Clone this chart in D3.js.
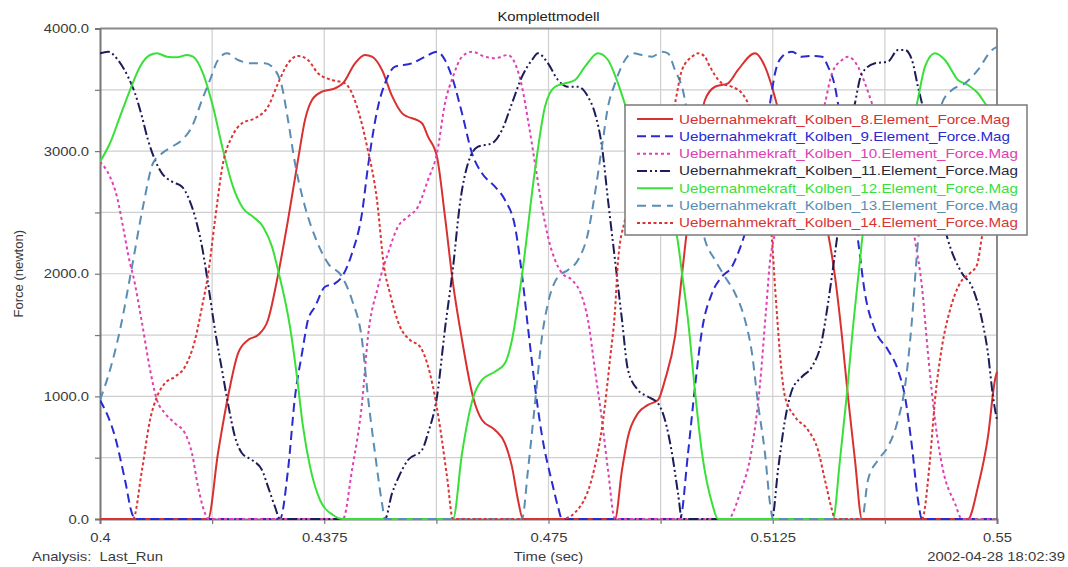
<!DOCTYPE html>
<html>
<head>
<meta charset="utf-8">
<script src="https://cdnjs.cloudflare.com/ajax/libs/d3/7.8.5/d3.min.js"></script>
<style>
  body { margin: 0; background: #fff; }
  text { font-family: "Liberation Sans", Arial, sans-serif; }
</style>
</head>
<body>
<div id="chart"></div>
<script>
// force curves: [time (sec), force (newton)]
const kolben8 = [[0.4,0],[0.41806,0],[0.41973,536],[0.42140,997],[0.42308,1351],[0.42475,1460],[0.42642,1500],[0.42809,1623],[0.42977,1990],[0.43144,2438],[0.43311,2928],[0.43428,3254],[0.43545,3417],[0.43712,3485],[0.43930,3512],[0.44063,3553],[0.44264,3716],[0.44431,3784],[0.44548,3770],[0.44716,3662],[0.44883,3450],[0.45050,3310],[0.45385,3227],[0.45485,3118],[0.45635,2955],[0.45769,2465],[0.45903,1922],[0.46054,1460],[0.46237,997],[0.46388,807],[0.46605,726],[0.46772,617],[0.46889,427],[0.46990,155],[0.47073,0],[0.48612,0],[0.48729,400],[0.48829,671],[0.48996,862],[0.49164,930],[0.49331,970],[0.49448,1134],[0.49615,1487],[0.49732,1990],[0.49833,2438],[0.50117,3417],[0.50284,3525],[0.50501,3553],[0.50669,3662],[0.50953,3798],[0.51120,3689],[0.51237,3525],[0.51321,3376],[0.52174,2330],[0.52291,1976],[0.52408,1487],[0.52508,997],[0.52625,481],[0.52742,0],[0.54515,0],[0.54682,264],[0.54849,671],[0.54966,1134],[0.55,1200]];

const kolben9 = [[0.4,970],[0.40251,671],[0.40418,318],[0.40535,46],[0.40585,0],[0.43010,0],[0.43144,400],[0.43261,997],[0.43378,1351],[0.43478,1623],[0.43595,1731],[0.43762,1894],[0.43930,1922],[0.44047,1976],[0.44214,2167],[0.44381,2493],[0.44481,2873],[0.44649,3362],[0.44766,3553],[0.44933,3689],[0.45217,3716],[0.45435,3770],[0.45635,3811],[0.45769,3743],[0.45903,3580],[0.46054,3308],[0.46221,2982],[0.46388,2819],[0.46605,2710],[0.46772,2601],[0.46940,2384],[0.47057,1990],[0.47157,1560],[0.47274,1080],[0.47391,680],[0.47558,300],[0.47659,100],[0.47726,0],[0.49699,0],[0.49833,536],[0.49950,1079],[0.50067,1540],[0.50234,1841],[0.50401,1976],[0.50568,2058],[0.50669,2167],[0.50786,2330],[0.51204,3390],[0.51288,3635],[0.51405,3770],[0.51572,3811],[0.51739,3770],[0.51906,3776],[0.52073,3770],[0.52174,3689],[0.52291,3525],[0.52341,3390],[0.52675,2275],[0.52792,1841],[0.52960,1541],[0.53177,1378],[0.53344,1215],[0.53461,997],[0.53578,590],[0.53679,155],[0.53745,0],[0.55,0]];

const kolben10 = [[0.4,2914],[0.40167,2791],[0.40284,2628],[0.40385,2384],[0.40502,2085],[0.40552,1990],[0.40702,1600],[0.40836,1220],[0.40953,970],[0.41087,862],[0.41254,780],[0.41421,699],[0.41538,536],[0.41639,264],[0.41756,46],[0.41806,0],[0.44063,0],[0.44214,400],[0.44381,943],[0.44481,1487],[0.44649,1894],[0.44816,2167],[0.44983,2384],[0.45150,2465],[0.45318,2547],[0.45485,2765],[0.45635,2982],[0.45769,3390],[0.45903,3607],[0.46054,3770],[0.46221,3811],[0.46438,3770],[0.46605,3757],[0.46823,3784],[0.46940,3716],[0.47057,3525],[0.47157,3254],[0.47274,2901],[0.47391,2547],[0.47491,2302],[0.47609,2112],[0.47726,2004],[0.47893,1949],[0.48060,1813],[0.48160,1623],[0.48277,1215],[0.48394,807],[0.48495,400],[0.48612,0],[0.50501,0],[0.50702,210],[0.50903,580],[0.51037,1100],[0.51137,1700],[0.51221,2167],[0.52123,3390],[0.52241,3635],[0.52408,3743],[0.52508,3770],[0.52675,3689],[0.52792,3553],[0.52909,3390],[0.53628,2275],[0.53745,1894],[0.53846,1351],[0.53963,807],[0.54097,400],[0.54297,128],[0.54414,0],[0.55,0]];

const kolben11 = [[0.4,3798],[0.40134,3811],[0.40301,3743],[0.40468,3607],[0.40585,3472],[0.40702,3281],[0.40803,3091],[0.40920,2928],[0.41037,2819],[0.41204,2751],[0.41371,2710],[0.41472,2628],[0.41589,2465],[0.41706,2221],[0.41806,1922],[0.41923,1541],[0.42040,1215],[0.42140,943],[0.42257,671],[0.42375,536],[0.42542,481],[0.42709,400],[0.42809,264],[0.42926,100],[0.43010,0],[0.44766,0],[0.44883,209],[0.44983,330],[0.45150,481],[0.45385,563],[0.45485,700],[0.45635,997],[0.45769,1550],[0.45903,2050],[0.46020,2575],[0.46154,2901],[0.46321,3036],[0.46555,3064],[0.46722,3172],[0.46889,3390],[0.47057,3607],[0.47224,3743],[0.47324,3798],[0.47491,3716],[0.47659,3580],[0.47826,3525],[0.47993,3525],[0.48160,3444],[0.48277,3308],[0.48394,3036],[0.48495,2601],[0.48612,2112],[0.48729,1623],[0.48829,1215],[0.48996,1052],[0.49164,997],[0.49331,943],[0.49448,807],[0.49565,536],[0.49666,209],[0.49732,0],[0.51237,0],[0.51338,400],[0.51455,807],[0.51572,1052],[0.51739,1160],[0.51906,1242],[0.52073,1460],[0.52174,1759],[0.52291,2167],[0.52625,3390],[0.52742,3635],[0.52960,3716],[0.53177,3730],[0.53344,3825],[0.53461,3825],[0.53578,3743],[0.53679,3525],[0.53745,3390],[0.54180,2275],[0.54414,2004],[0.54582,1894],[0.54749,1623],[0.54849,1351],[0.54933,997],[0.55,807]];

const kolben12 = [[0.4,2914],[0.40167,3064],[0.40334,3281],[0.40502,3498],[0.40669,3689],[0.40836,3784],[0.40953,3798],[0.41120,3770],[0.41288,3765],[0.41455,3784],[0.41555,3770],[0.41722,3635],[0.41890,3362],[0.42057,3009],[0.42224,2710],[0.42391,2534],[0.42558,2465],[0.42726,2384],[0.42876,2221],[0.42977,2031],[0.43177,1568],[0.43294,1160],[0.43395,753],[0.43512,427],[0.43679,155],[0.43896,33],[0.44063,0],[0.45903,0],[0.46054,536],[0.46237,984],[0.46388,1134],[0.46605,1201],[0.46772,1270],[0.46889,1460],[0.47057,1990],[0.47274,2846],[0.47441,3362],[0.47609,3525],[0.47776,3553],[0.47943,3580],[0.48110,3689],[0.48328,3798],[0.48495,3743],[0.48662,3553],[0.48829,3308],[0.49649,2302],[0.49732,2005],[0.49833,1623],[0.49950,1040],[0.50067,538],[0.50234,130],[0.50334,0],[0.52257,0],[0.52374,481],[0.52491,1025],[0.52592,1568],[0.52709,2112],[0.52759,2330],[0.53662,3390],[0.53796,3689],[0.53963,3798],[0.54130,3743],[0.54347,3580],[0.54515,3539],[0.54682,3472],[0.54799,3390],[0.55,3250]];

const kolben13 = [[0.4,970],[0.40167,1215],[0.40334,1541],[0.40535,2058],[0.40719,2547],[0.40886,2901],[0.41037,2982],[0.41204,3036],[0.41371,3091],[0.41538,3200],[0.41706,3417],[0.41839,3580],[0.41973,3743],[0.42124,3798],[0.42308,3743],[0.42542,3716],[0.42759,3716],[0.42926,3662],[0.43043,3525],[0.43144,3254],[0.43261,2901],[0.43428,2547],[0.43595,2302],[0.43813,2085],[0.44047,1976],[0.44214,1786],[0.44381,1460],[0.44481,997],[0.44599,536],[0.44716,128],[0.44766,0],[0.47057,0],[0.47157,400],[0.47274,943],[0.47391,1487],[0.47491,1759],[0.47659,1976],[0.47826,2031],[0.47993,2112],[0.48160,2330],[0.48277,2656],[0.48394,3036],[0.48495,3362],[0.48612,3553],[0.48779,3743],[0.48896,3798],[0.49063,3784],[0.49231,3770],[0.49398,3811],[0.49498,3798],[0.49615,3662],[0.49732,3525],[0.50117,2275],[0.50284,2112],[0.50451,1976],[0.50618,1841],[0.50786,1623],[0.50903,1351],[0.51003,943],[0.51120,536],[0.51204,128],[0.51254,0],[0.52742,0],[0.52842,318],[0.53010,481],[0.53177,590],[0.53344,807],[0.53461,1079],[0.53578,1623],[0.53662,2167],[0.54080,3390],[0.54247,3498],[0.54465,3553],[0.54682,3662],[0.54916,3825],[0.55,3850]];

const kolben14 = [[0.4,0],[0.40552,0],[0.40702,400],[0.40836,807],[0.40953,997],[0.41087,1107],[0.41254,1160],[0.41421,1242],[0.41589,1460],[0.41706,1731],[0.41806,1990],[0.41923,2438],[0.42057,2901],[0.42207,3118],[0.42375,3227],[0.42592,3268],[0.42809,3362],[0.42977,3553],[0.43144,3716],[0.43311,3776],[0.43478,3743],[0.43645,3635],[0.43880,3580],[0.44097,3553],[0.44298,3362],[0.44465,3040],[0.44632,2600],[0.44749,2060],[0.44849,1840],[0.45017,1568],[0.45184,1460],[0.45351,1405],[0.45568,1079],[0.45685,753],[0.45803,345],[0.45903,0],[0.47726,0],[0.48027,100],[0.48261,400],[0.48411,800],[0.48528,1300],[0.48612,1700],[0.48662,2100],[0.48779,2438],[0.49615,3390],[0.49732,3662],[0.49900,3770],[0.50000,3798],[0.50117,3770],[0.50167,3720],[0.50401,3553],[0.50568,3525],[0.50735,3472],[0.50836,3390],[0.51237,2275],[0.51288,1894],[0.51455,997],[0.51622,834],[0.51839,726],[0.52006,563],[0.52123,318],[0.52241,73],[0.52291,0],[0.53745,0],[0.53879,481],[0.53963,970],[0.54080,1405],[0.54214,1704],[0.54381,1922],[0.54548,2004],[0.54665,2071],[0.54749,2302],[0.55,2700]];

const seriesLabels = [
  "Uebernahmekraft_Kolben_8.Element_Force.Mag",
  "Uebernahmekraft_Kolben_9.Element_Force.Mag",
  "Uebernahmekraft_Kolben_10.Element_Force.Mag",
  "Uebernahmekraft_Kolben_11.Element_Force.Mag",
  "Uebernahmekraft_Kolben_12.Element_Force.Mag",
  "Uebernahmekraft_Kolben_13.Element_Force.Mag",
  "Uebernahmekraft_Kolben_14.Element_Force.Mag"
];
const xTicks = [0.4, 0.4375, 0.475, 0.5125, 0.55];
const xMinorTicks = [0.41875, 0.45625, 0.49375, 0.53125];
const yTicks = [0, 1000, 2000, 3000, 4000];
const yMinorTicks = [500, 1500, 2500, 3500];

// line styles, same order as the labels
const seriesData = [kolben8, kolben9, kolben10, kolben11, kolben12, kolben13, kolben14];
const lineStyles = [
  {color: "#d93030", dash: null},
  {color: "#2a2ad2", dash: "9,5"},
  {color: "#e040b4", dash: "3,3"},
  {color: "#1c1c58", dash: "10,3,2,3,2,3"},
  {color: "#38e038", dash: null},
  {color: "#5a8db3", dash: "9,6"},
  {color: "#dc3434", dash: "3,2.5"}
];

const W = 1068, H = 567;
const margin = {top: 28.5, right: 71, bottom: 48, left: 100},
    plotW = W - margin.left - margin.right,
    plotH = H - margin.top - margin.bottom;

const svg = d3.select("#chart").append("svg")
    .attr("width", W)
    .attr("height", H)
    .style("background", "#fff");

const g = svg.append("g")
    .attr("transform", "translate(" + margin.left + "," + margin.top + ")");

const x = d3.scaleLinear().domain([0.4, 0.55]).range([0, plotW]);
const y = d3.scaleLinear().domain([0, 4000]).range([plotH, 0]);

// grid
g.selectAll(".vgrid")
  .data(xTicks.concat(xMinorTicks).filter(d => d > 0.4 && d < 0.55))
  .enter().append("line")
    .attr("x1", d => x(d)).attr("x2", d => x(d))
    .attr("y1", 0).attr("y2", plotH)
    .attr("stroke", "#cfcfcf").attr("stroke-width", 1.2);
g.selectAll(".hgrid")
  .data(yTicks.concat(yMinorTicks).filter(d => d > 0 && d < 4000))
  .enter().append("line")
    .attr("x1", 0).attr("x2", plotW)
    .attr("y1", d => y(d)).attr("y2", d => y(d))
    .attr("stroke", "#cfcfcf").attr("stroke-width", 1.2);

// frame top / right
g.append("line").attr("x1", 0).attr("x2", plotW).attr("y1", 0).attr("y2", 0)
  .attr("stroke", "#8a8a8a").attr("stroke-width", 2);
g.append("line").attr("x1", plotW).attr("x2", plotW).attr("y1", 0).attr("y2", plotH)
  .attr("stroke", "#8a8a8a").attr("stroke-width", 2);

// axes
const xAxis = d3.axisBottom(x)
  .tickValues(xTicks.concat(xMinorTicks))
  .tickSize(5).tickPadding(9)
  .tickFormat(d => xTicks.includes(d) ? String(d) : "");
const gx = g.append("g").attr("transform", "translate(0," + plotH + ")").call(xAxis);

const yAxis = d3.axisLeft(y)
  .tickValues(yTicks.concat(yMinorTicks))
  .tickSize(5).tickPadding(6)
  .tickFormat(d => yTicks.includes(d) ? d.toFixed(1) : "");
const gy = g.append("g").call(yAxis);

[gx, gy].forEach(a => {
  a.select(".domain").attr("stroke", "#777").attr("stroke-width", 2);
  a.selectAll(".tick line").attr("stroke", "#777").attr("stroke-width", 1.2);
  a.selectAll(".tick text")
    .attr("class", "stretch")
    .style("font-family", "'Liberation Sans', Arial, sans-serif")
    .style("font-size", "13px")
    .attr("fill", "#3a3a3a");
});

// curves
g.append("clipPath").attr("id", "clip")
  .append("rect").attr("x", 0).attr("y", -2).attr("width", plotW + 1).attr("height", plotH + 4);

const line = d3.line()
  .x(d => x(d[0]))
  .y(d => y(d[1]))
  .curve(d3.curveMonotoneX);

g.append("g").attr("clip-path", "url(#clip)")
  .selectAll("path")
  .data(seriesData)
  .enter().append("path")
    .attr("d", line)
    .attr("fill", "none")
    .attr("stroke", (d, i) => lineStyles[i].color)
    .attr("stroke-width", 2)
    .attr("stroke-dasharray", (d, i) => lineStyles[i].dash)
    .attr("stroke-linejoin", "round");

// legend
const legend = svg.append("g").attr("transform", "translate(625,105)");
legend.append("rect")
  .attr("width", 402).attr("height", 130)
  .attr("fill", "#fff")
  .attr("stroke", "#7a7a7a").attr("stroke-width", 1.5);
seriesLabels.forEach((lab, i) => {
  const ry = 14 + i * 17.33;
  legend.append("line")
    .attr("x1", 12).attr("x2", 48).attr("y1", ry).attr("y2", ry)
    .attr("stroke", lineStyles[i].color)
    .attr("stroke-width", 2)
    .attr("stroke-dasharray", lineStyles[i].dash);
  legend.append("text")
    .attr("x", 54).attr("y", ry + 4.5)
    .attr("fill", i === 3 ? "#2a2a3a" : lineStyles[i].color)
    .style("font-size", "13px")
    .attr("textLength", lab.length > 42 ? 339 : 331)
    .attr("lengthAdjust", "spacingAndGlyphs")
    .text(lab);
});

// titles and labels
svg.append("text")
  .attr("class", "stretch")
  .attr("x", margin.left + plotW / 2).attr("y", 21)
  .attr("text-anchor", "middle")
  .attr("fill", "#222")
  .style("font-size", "13px")
  .text("Komplettmodell");

svg.append("text")
  .attr("transform", "translate(23," + (margin.top + plotH / 2) + ") rotate(-90)")
  .attr("text-anchor", "middle")
  .attr("fill", "#3a3a3a")
  .style("font-size", "13px")
  .text("Force (newton)");

svg.append("text")
  .attr("class", "stretch")
  .attr("x", margin.left + plotW / 2).attr("y", 561)
  .attr("text-anchor", "middle")
  .attr("fill", "#3a3a3a")
  .style("font-size", "13px")
  .text("Time (sec)");

svg.append("text")
  .attr("class", "stretch")
  .attr("x", 32).attr("y", 561)
  .attr("fill", "#3a3a3a")
  .style("font-size", "13px")
  .style("white-space", "pre")
  .text("Analysis:  Last_Run");

svg.append("text")
  .attr("class", "stretch")
  .attr("x", 1065).attr("y", 561)
  .attr("text-anchor", "end")
  .attr("fill", "#3a3a3a")
  .style("font-size", "13px")
  .text("2002-04-28 18:02:39");

// the source picture is a bit wider than tall, widen the texts to match
svg.selectAll("text.stretch").each(function() {
  const len = this.getComputedTextLength();
  if (len > 0) d3.select(this).attr("textLength", len * 1.14).attr("lengthAdjust", "spacingAndGlyphs");
});
</script>
</body>
</html>
